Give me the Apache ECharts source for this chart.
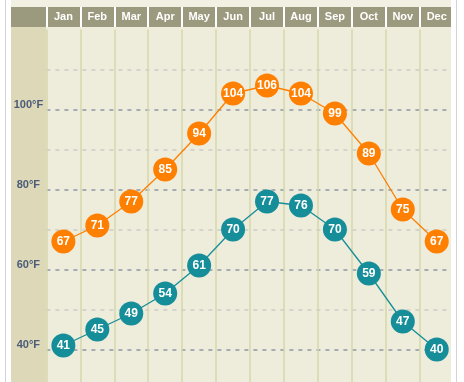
<!DOCTYPE html>
<html>
<head>
<meta charset="utf-8">
<script src="https://cdn.jsdelivr.net/npm/echarts@6/dist/echarts.min.js"></script>
<style>
html,body{margin:0;padding:0;background:#fff;}
#c{width:464px;height:382px;}
</style>
</head>
<body>
<div id="c"></div>
<script>
const months = ['Jan','Feb','Mar','Apr','May','Jun','Jul','Aug','Sep','Oct','Nov','Dec'];
const highs = [67,71,77,85,94,104,106,104,99,89,75,67];
const lows = [41,45,49,54,61,70,77,76,70,59,47,40];
const yLabelValues = [40,60,80,100];

const chart = echarts.init(document.getElementById('c'), null, {renderer:'canvas'});
const FONT = '"Liberation Sans", Arial, sans-serif';
const gridLeft = 46.4, gridWidth = 407.3;

chart.setOption({
  animation: false,
  backgroundColor: '#ffffff',
  graphic: [
    {type:'rect', z:-10, shape:{x:11,y:0,width:440,height:7}, style:{fill:'#f2f0e2'}},
    {type:'rect', z:-10, shape:{x:11,y:27,width:35.4,height:360}, style:{fill:'#ddd8b7'}},
    {type:'rect', z:-10, shape:{x:46.4,y:27,width:405,height:360}, style:{fill:'#eeecdb'}},
    {type:'rect', z:100, shape:{x:451,y:0,width:13,height:382}, style:{fill:'#ffffff'}},
    {type:'line', z:101, shape:{x1:5.5,y1:0,x2:5.5,y2:382}, style:{stroke:'#d4d4d4',lineWidth:1}},
    {type:'line', z:101, shape:{x1:456.5,y1:0,x2:456.5,y2:382}, style:{stroke:'#d4d4d4',lineWidth:1}}
  ],
  grid: [
    {left: gridLeft, width: gridWidth, top: 29.5, height: 360, show:false, outerBoundsMode:'none', containLabel:false},
    {left: 11, width: 440, top: 7, height: 20, show:true, backgroundColor:'#9c9a7e', borderWidth:0, outerBoundsMode:'none'},
    {left: gridLeft, width: gridWidth, top: 7, height: 20, show:false, outerBoundsMode:'none'}
  ],
  xAxis: [
    {
      type:'category', gridIndex:0, data: months, position:'top', boundaryGap:true,
      axisLine:{show:false}, axisTick:{show:false},
      axisLabel:{show:true, color:'#ffffff', fontWeight:'bold', fontSize:11, fontFamily:FONT, margin:7},
      splitLine:{show:true, lineStyle:{color:'#d6d9ab', width:1.5}}
    },
    {type:'category', gridIndex:1, data:['x'], show:false},
    {
      type:'category', gridIndex:2, data: months, boundaryGap:true,
      axisLine:{show:false}, axisTick:{show:false}, axisLabel:{show:false},
      splitLine:{show:true, lineStyle:{color:'#ffffff', width:2}}
    }
  ],
  yAxis: [
    {
      type:'value', gridIndex:0, min:30, max:120, interval:10,
      axisLine:{show:false}, axisTick:{show:false},
      axisLabel:{
        show:true, color:'#4b5b7a', fontWeight:'bold', fontSize:11, fontFamily:FONT,
        align:'center', margin:18, verticalAlign:'bottom', lineHeight:9,
        formatter: v => yLabelValues.indexOf(v) >= 0 ? v + '°F' : ''
      },
      splitLine:{show:true, showMaxLine:false, showMinLine:false, lineStyle:{type:[4,5], width:1.5, color:['#8f97a5','#cbcbc9']}}
    },
    {type:'value', gridIndex:1, show:false},
    {type:'value', gridIndex:2, show:false, splitLine:{show:false}}
  ],
  series: [
    {
      type:'line', xAxisIndex:0, yAxisIndex:0, data: highs,
      symbol:'circle', symbolSize:24,
      lineStyle:{color:'#ff7f00', width:1.3},
      itemStyle:{color:'#ff7f00'},
      label:{show:true, position:'inside', color:'#ffffff', fontWeight:'bold', fontSize:12, fontFamily:FONT},
      z:3
    },
    {
      type:'line', xAxisIndex:0, yAxisIndex:0, data: lows,
      symbol:'circle', symbolSize:24,
      lineStyle:{color:'#168e99', width:1.3},
      itemStyle:{color:'#168e99'},
      label:{show:true, position:'inside', color:'#ffffff', fontWeight:'bold', fontSize:12, fontFamily:FONT},
      z:3
    }
  ]
});
</script>
</body>
</html>
